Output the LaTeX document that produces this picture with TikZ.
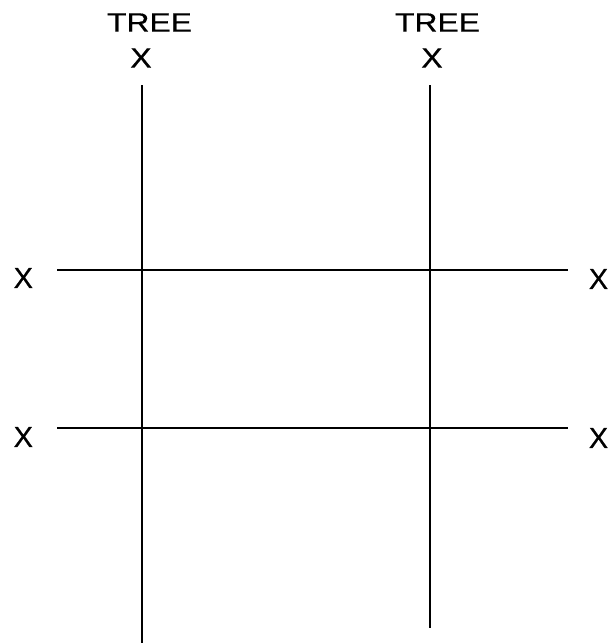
\documentclass[tikz,border=0pt]{standalone}
\usepackage{graphicx}
\usepackage{fontspec}
\setmainfont{Liberation Sans}
\newfontfamily\heavysans{Liberation Sans}[FakeBold=0.5]
\begin{document}
\begin{tikzpicture}[x=1pt,y=-1pt,
  gridline/.style={line width=2pt, black},
  lbl/.style={inner sep=0pt, font=\heavysans\fontsize{29}{31}\selectfont},
  toplbl/.style={inner sep=0pt, font=\heavysans\fontsize{28}{30}\selectfont},
  treelbl/.style={inner sep=0pt, font=\heavysans\fontsize{26.5}{28}\selectfont}]
\useasboundingbox[fill=white] (0,0) rectangle (609,643);
% vertical lines
\coordinate (v1t) at (142,85);
\coordinate (v1b) at (142,643);
\coordinate (v2t) at (430,85);
\coordinate (v2b) at (430,628);
% horizontal lines
\coordinate (h1l) at (57,270);
\coordinate (h1r) at (568,270);
\coordinate (h2l) at (57,428);
\coordinate (h2r) at (568,428);
\draw[gridline] (v1t) -- (v1b);
\draw[gridline] (v2t) -- (v2b);
\draw[gridline] (h1l) -- (h1r);
\draw[gridline] (h2l) -- (h2r);
% labels
\node[treelbl] (tree1) at (149.5,22.5) {\scalebox{1.2}[1]{TREE}};
\node[toplbl] (x1) at (141,58) {\scalebox{1.15}[1]{X}};
\node[treelbl] (tree2) at (437.5,22.5) {\scalebox{1.2}[1]{TREE}};
\node[toplbl] (x2) at (432,58) {\scalebox{1.15}[1]{X}};
\node[lbl] (xl1) at (23.3,278) {X};
\node[lbl] (xr1) at (598.5,279) {X};
\node[lbl] (xl2) at (23.3,437) {X};
\node[lbl] (xr2) at (598.5,438) {X};
\end{tikzpicture}
\end{document}
